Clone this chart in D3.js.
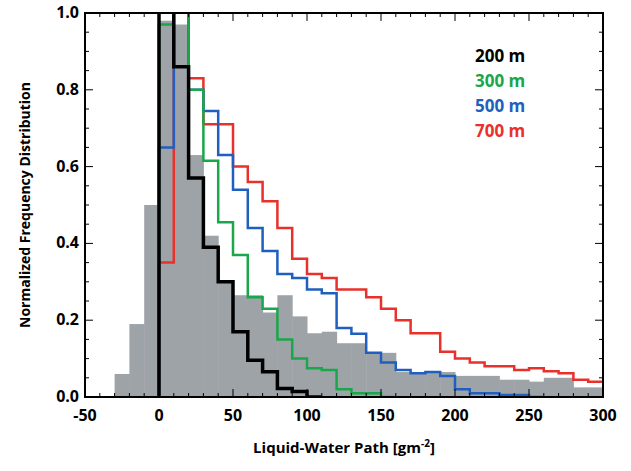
<!DOCTYPE html>
<html><head><meta charset="utf-8">
<script src="https://cdn.jsdelivr.net/npm/d3@7"></script>
<style>body{margin:0;background:#fff}text{font-family:"Open Sans",sans-serif;font-weight:bold}</style>
</head><body><div id="chart"></div>
<script>
// bins are 10 gm-2 wide, each array starts at binStart
const grayStart = -30
const grayVals = [0.06, 0.19, 0.50, 0.98, 0.97, 0.63, 0.42, 0.30, 0.265, 0.265, 0.22, 0.265, 0.21, 0.166, 0.17,
  0.14, 0.14, 0.115, 0.115, 0.065, 0.065, 0.065, 0.065, 0.055, 0.055, 0.055, 0.045, 0.045, 0.04, 0.05, 0.05, 0.025, 0.025]
const m200 = [1.02, 0.86, 0.57, 0.39, 0.30, 0.17, 0.096, 0.066, 0.022, 0.014, 0]
const m300 = [0.97, 1.02, 0.80, 0.615, 0.455, 0.37, 0.26, 0.23, 0.15, 0.10, 0.075, 0.07, 0.02, 0.01, 0.01, 0]
const m500 = [0.65, 1.02, 0.80, 0.745, 0.63, 0.54, 0.44, 0.38, 0.32, 0.31, 0.28, 0.27, 0.18, 0.165, 0.115, 0.09,
  0.07, 0.062, 0.065, 0.055, 0.02, 0.01, 0.01, 0.005, 0.005, 0]
const m700 = [0.35, 1.02, 0.83, 0.71, 0.71, 0.60, 0.56, 0.51, 0.44, 0.36, 0.32, 0.31, 0.28, 0.28, 0.26, 0.23,
  0.20, 0.166, 0.166, 0.118, 0.10, 0.09, 0.08, 0.08, 0.07, 0.075, 0.067, 0.062, 0.045, 0.04]
const series = [
  { name: '200 m', vals: m200, color: '#000000', width: 3.5 },
  { name: '300 m', vals: m300, color: '#1aa64a', width: 2.5 },
  { name: '500 m', vals: m500, color: '#1f5fbf', width: 2.5 },
  { name: '700 m', vals: m700, color: '#e8312a', width: 2.5 }
]
const xTicks = [-50, 0, 50, 100, 150, 200, 250, 300]
const yTicks = [0, 0.2, 0.4, 0.6, 0.8, 1.0]

const W = 631, H = 471
const m = { l: 85, r: 28, t: 13, b: 74 }
const svg = d3.select('#chart').append('svg').attr('width', W).attr('height', H)
const x = d3.scaleLinear().domain([-50, 300]).range([m.l, W - m.r])
const y = d3.scaleLinear().domain([0, 1]).range([H - m.b, m.t])

svg.append('clipPath').attr('id', 'clip').append('rect')
  .attr('x', m.l).attr('y', m.t).attr('width', W - m.l - m.r).attr('height', H - m.t - m.b)
const g = svg.append('g').attr('clip-path', 'url(#clip)')

g.selectAll('rect.bar').data(grayVals).join('rect').attr('class', 'bar')
  .attr('x', (d, i) => x(grayStart + i * 10)).attr('width', x(10) - x(0) + 0.5)
  .attr('y', d => y(d)).attr('height', d => y(0) - y(d)).attr('fill', '#9ea3a8')

const stepPts = vals => {
  const pts = [[0, 0]]
  vals.forEach((v, i) => { pts.push([i * 10, v]); pts.push([(i + 1) * 10, v]) })
  return pts
}
const line = d3.line().x(d => x(d[0])).y(d => y(d[1]))
series.slice().reverse().forEach(s => {
  g.append('path').attr('d', line(stepPts(s.vals))).attr('fill', 'none')
    .attr('stroke', s.color).attr('stroke-width', s.width)
})

// frame and ticks
const ax = svg.append('g').attr('stroke', '#000')
ax.append('rect').attr('x', m.l).attr('y', m.t).attr('width', W - m.l - m.r).attr('height', H - m.t - m.b)
  .attr('fill', 'none').attr('stroke-width', 2)
d3.range(-50, 301, 10).forEach(v => {
  const len = v % 50 === 0 ? 8 : 4
  ax.append('line').attr('x1', x(v)).attr('x2', x(v)).attr('y1', y(0)).attr('y2', y(0) - len)
  ax.append('line').attr('x1', x(v)).attr('x2', x(v)).attr('y1', y(1)).attr('y2', y(1) + len)
})
d3.range(0, 21).forEach(k => {
  const v = k * 0.05, len = k % 4 === 0 ? 8 : 4
  ax.append('line').attr('x1', x(-50)).attr('x2', x(-50) + len).attr('y1', y(v)).attr('y2', y(v))
  ax.append('line').attr('x1', x(300)).attr('x2', x(300) - len).attr('y1', y(v)).attr('y2', y(v))
})
svg.selectAll('text.xt').data(xTicks).join('text').attr('class', 'xt')
  .attr('x', d => x(d)).attr('y', y(0) + 24).attr('text-anchor', 'middle').attr('font-size', 16).text(d => d)
svg.selectAll('text.yt').data(yTicks).join('text').attr('class', 'yt')
  .attr('x', m.l - 6).attr('y', d => y(d) + 5).attr('text-anchor', 'end').attr('font-size', 16).text(d => d.toFixed(1))

const xl = svg.append('text').attr('x', x(125)).attr('y', H - 18).attr('text-anchor', 'middle').attr('font-size', 15)
xl.append('tspan').text('Liquid-Water Path [gm')
xl.append('tspan').attr('dy', -6).attr('font-size', 10).text('-2')
xl.append('tspan').attr('dy', 6).text(']')
svg.append('text').attr('transform', `translate(30,${y(0.5)}) rotate(-90)`).attr('text-anchor', 'middle')
  .attr('font-size', 14).text('Normalized Frequency Distribution')

svg.selectAll('text.leg').data(series).join('text').attr('class', 'leg')
  .attr('x', 475).attr('y', (d, i) => 62 + i * 25).attr('font-size', 17).attr('fill', d => d.color).text(d => d.name)
</script></body></html>
